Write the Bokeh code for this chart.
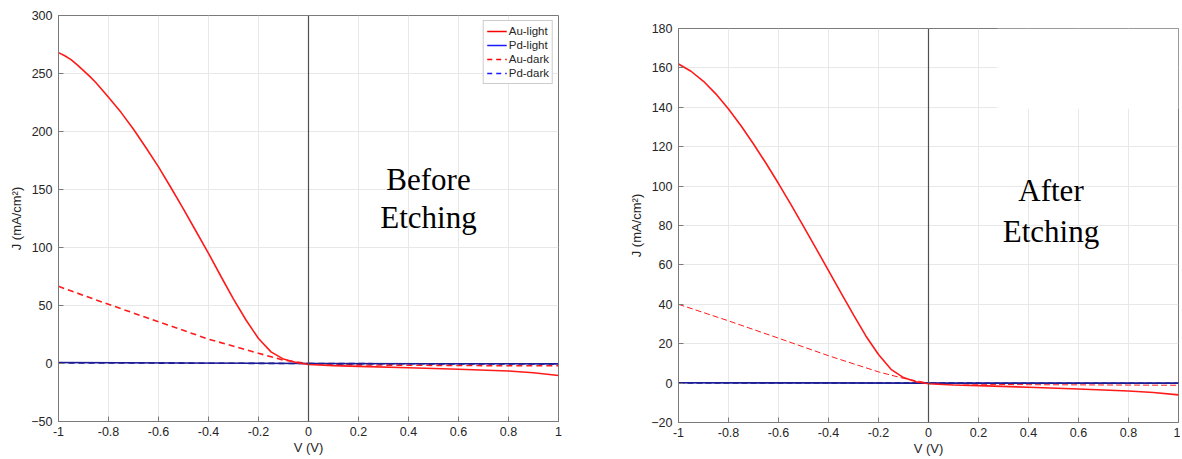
from bokeh.plotting import figure
from bokeh.layouts import row, column
from bokeh.models import Span, Label, Legend, LegendItem, BoxAnnotation, FixedTicker, Spacer
from bokeh.embed import file_html
from bokeh.resources import INLINE

# ---------------- data ----------------
x_ticks = [-1, -0.8, -0.6, -0.4, -0.2, 0, 0.2, 0.4, 0.6, 0.8, 1]
x_tick_labels = ["-1", "-0.8", "-0.6", "-0.4", "-0.2", "0", "0.2", "0.4", "0.6", "0.8", "1"]
y_ticks_before = [-50, 0, 50, 100, 150, 200, 250, 300]
y_ticks_after = [-20, 0, 20, 40, 60, 80, 100, 120, 140, 160, 180]

# Before etching
v_au_light_b = [-1, -0.975, -0.95, -0.925, -0.9, -0.875, -0.85, -0.8, -0.75, -0.7, -0.65, -0.6, -0.55,
                -0.5, -0.45, -0.4, -0.35, -0.3, -0.25, -0.2, -0.15, -0.1, -0.05, 0,
                0.1, 0.2, 0.4, 0.6, 0.8, 0.9, 1.0]
j_au_light_b = [268, 265.3, 262, 257.5, 252.5, 247.5, 242, 229.5, 216.5, 202, 186, 169.5, 151.5,
                133, 114, 95, 75, 55.5, 37.5, 21.5, 10, 3.8, 0.9, -0.9,
                -1.8, -2.5, -3.7, -5.0, -6.5, -8.0, -10.3]
v_au_dark_b = [-1, -0.8, -0.6, -0.4, -0.2, -0.1, -0.05, 0, 0.2, 0.4, 0.6, 0.8, 1.0]
j_au_dark_b = [66.5, 51, 36, 21, 8.8, 2.9, 1.4, 0, -1.2, -1.5, -1.7, -1.9, -2.0]
v_pd_b = [-1, -0.5, 0, 0.5, 1]
j_pd_light_b = [0.8, 0.4, 0, -0.2, -0.3]
j_pd_dark_b = [0.6, 0.3, 0, -0.3, -0.5]

# After etching
v_au_light_a = [-1, -0.95, -0.9, -0.85, -0.8, -0.75, -0.7, -0.65, -0.6, -0.55, -0.5, -0.45, -0.4,
                -0.35, -0.3, -0.25, -0.2, -0.15, -0.1, -0.05, 0, 0.1, 0.2, 0.4, 0.6, 0.8, 0.9, 1.0]
j_au_light_a = [162, 158.3, 153.2, 146.7, 139.1, 130.6, 121.4, 111.6, 101.3, 90.6, 79.6, 68.4, 57.1,
                45.8, 34.6, 23.8, 14.5, 7.0, 2.8, 0.7, -0.3, -1.0, -1.3, -2.1, -3.0, -4.0, -4.8, -6.0]
v_au_dark_a = [-1, -0.8, -0.6, -0.4, -0.2, -0.1, 0, 0.2, 0.4, 0.6, 0.8, 1.0]
j_au_dark_a = [40, 31.6, 22.8, 13.9, 5.7, 2.4, 0, -0.6, -0.8, -0.9, -1.0, -1.1]
v_pd_a = [-1, -0.5, 0, 0.5, 1]
j_pd_light_a = [0.2, 0.1, 0, 0, 0]
j_pd_dark_a = [0.1, 0.05, 0, -0.1, -0.1]

legend_labels = ["Au-light", "Pd-light", "Au-dark", "Pd-dark"]
x_title = "V (V)"
y_title = "J (mA/cm\u00b2)"

# ---------------- styles ----------------
RED = "#ff1a1a"
NAVY = "#1c1c96"
FRAME = "#7a7a7a"
TXT = "#262626"
SANS = "Liberation Sans"
SERIF = "Liberation Serif"
NAN = float("nan")


def make_fig(fw, fh, y_range, y_ticks, mb_left, mb_right, mb_top, mb_bottom):
    p = figure(title=None, frame_width=fw, frame_height=fh, x_range=(-1, 1), y_range=y_range,
               output_backend="svg", toolbar_location=None,
               min_border_left=mb_left, min_border_right=mb_right,
               min_border_top=mb_top, min_border_bottom=mb_bottom,
               background_fill_color="white", border_fill_color="white")
    p.outline_line_color = FRAME
    p.outline_line_width = 1
    p.xaxis.ticker = FixedTicker(ticks=x_ticks)
    p.yaxis.ticker = FixedTicker(ticks=y_ticks)
    p.xaxis.major_label_overrides = {t: l for t, l in zip(x_ticks, x_tick_labels)}
    p.xaxis.axis_label = x_title
    p.yaxis.axis_label = y_title
    for ax in p.axis:
        ax.major_tick_in = 5
        ax.major_tick_out = 0
        ax.minor_tick_line_color = None
        ax.axis_line_color = FRAME
        ax.major_tick_line_color = FRAME
        ax.major_label_text_font = SANS
        ax.major_label_text_font_size = "12.5px"
        ax.major_label_text_color = TXT
        ax.axis_label_text_font = SANS
        ax.axis_label_text_font_size = "13px"
        ax.axis_label_text_font_style = "normal"
        ax.axis_label_text_color = TXT
    p.xaxis.major_label_standoff = 5
    p.xaxis.axis_label_standoff = 1
    p.yaxis.major_label_standoff = 6
    p.yaxis.axis_label_standoff = 4
    p.grid.grid_line_color = "#e8e8e8"
    p.grid.grid_line_width = 1
    return p


# ---------------- Before etching ----------------
p1 = make_fig(500, 406, (-50, 300), y_ticks_before, 58, 10, 15, 36)
p1.add_layout(Span(location=0, dimension="height", line_color="#505050", line_width=1.2))
p1.line(v_au_dark_b, j_au_dark_b, line_color=RED, line_width=1.6, line_dash="6 4")
p1.line(v_pd_b, j_pd_dark_b, line_color=NAVY, line_width=1.6, line_dash="6 4")
p1.line(v_pd_b, j_pd_light_b, line_color=NAVY, line_width=1.6)
p1.line(v_au_light_b, j_au_light_b, line_color=RED, line_width=1.6)

# legend keys (bright colours as in the reference legend); nothing is drawn in the plot area
lg1 = p1.line([NAN], [NAN], line_color="#ff0000", line_width=1.6)
lg2 = p1.line([NAN], [NAN], line_color="#1a1aff", line_width=1.6)
lg3 = p1.line([NAN], [NAN], line_color="#ff0000", line_width=1.6, line_dash="5 4")
lg4 = p1.line([NAN], [NAN], line_color="#1a1aff", line_width=1.6, line_dash="5 4")
legend = Legend(items=[LegendItem(label=legend_labels[0], renderers=[lg1]),
                       LegendItem(label=legend_labels[1], renderers=[lg2]),
                       LegendItem(label=legend_labels[2], renderers=[lg3]),
                       LegendItem(label=legend_labels[3], renderers=[lg4])],
                location="top_right")
legend.margin = 5
legend.padding = 3
legend.spacing = 0
legend.label_height = 14
legend.glyph_height = 14
legend.glyph_width = 20
legend.label_standoff = 2
legend.label_text_font = SANS
legend.label_text_font_size = "11.5px"
legend.label_text_color = TXT
legend.border_line_color = "#999999"
legend.border_line_width = 1
legend.background_fill_color = "white"
p1.add_layout(legend)

p1.add_layout(Label(x=0.48, y=159, text="Before", text_font=SERIF, text_font_size="31px",
                    text_align="center", text_baseline="middle", text_color="black"))
p1.add_layout(Label(x=0.48, y=126, text="Etching", text_font=SERIF, text_font_size="31px",
                    text_align="center", text_baseline="middle", text_color="black"))

# ---------------- After etching ----------------
p2 = make_fig(500, 394, (-20, 180), y_ticks_after, 110, 2, 15, 35)
p2.add_layout(BoxAnnotation(left=0.275, right=1.0, bottom=139.3, top=180,
                            fill_color="white", fill_alpha=1, line_alpha=0, level="underlay"))
p2.add_layout(Span(location=0, dimension="height", line_color="#505050", line_width=1.2))
p2.line(v_au_dark_a, j_au_dark_a, line_color=RED, line_width=1.0, line_dash="6 3")
p2.line(v_pd_a, j_pd_dark_a, line_color=NAVY, line_width=1.6, line_dash="6 3")
p2.line(v_pd_a, j_pd_light_a, line_color=NAVY, line_width=1.6)
p2.line(v_au_light_a, j_au_light_a, line_color=RED, line_width=1.6)

p2.add_layout(Label(x=0.49, y=98, text="After", text_font=SERIF, text_font_size="31px",
                    text_align="center", text_baseline="middle", text_color="black"))
p2.add_layout(Label(x=0.49, y=77, text="Etching", text_font=SERIF, text_font_size="31px",
                    text_align="center", text_baseline="middle", text_color="black"))

layout = row(column(p1), column(Spacer(width=10, height=13), p2))
open("out.html", "w").write(file_html(layout, INLINE))
